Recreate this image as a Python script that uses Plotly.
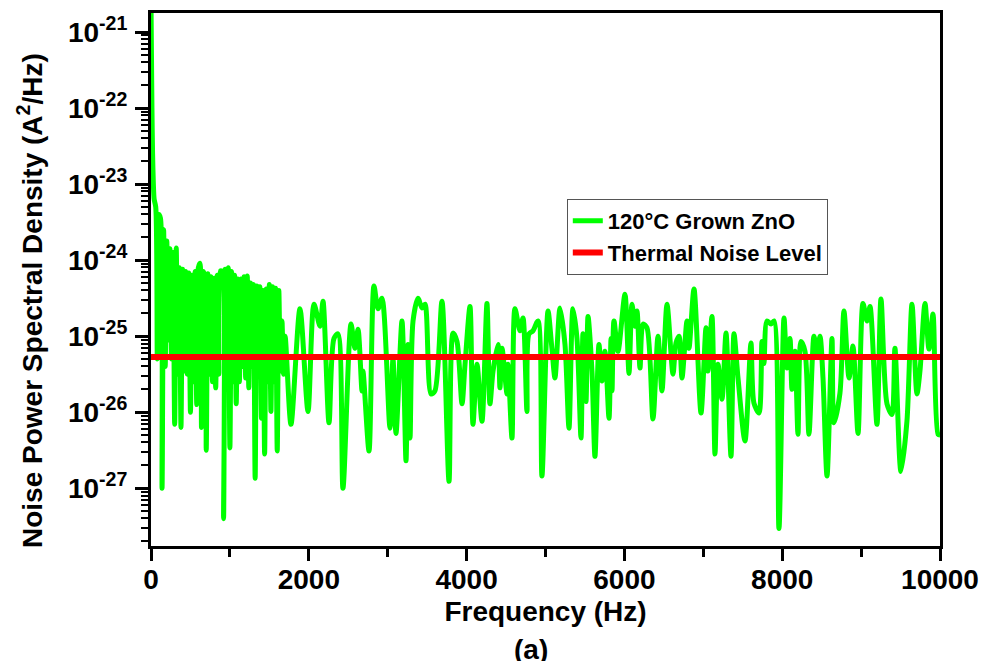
import plotly.graph_objects as go

# ---------------- data ----------------
freq_hz = [
    0, 6, 12, 20, 30, 40, 60, 80, 100, 120, 140, 160, 180, 200, 220, 240, 260, 280, 300, 320,
    340, 360, 380, 400, 420, 440, 460, 480, 500, 520, 540, 560, 580, 600, 620, 640, 660, 680, 700, 720,
    740, 760, 780, 800, 820, 840, 860, 880, 900, 920, 940, 960, 980, 1000, 1020, 1040, 1060, 1080, 1100, 1120,
    1140, 1160, 1180, 1200, 1220, 1240, 1260, 1280, 1300, 1320, 1340, 1360, 1380, 1400, 1420, 1440, 1460, 1480, 1500, 1520,
    1540, 1560, 1580, 1600, 1620, 1640, 1660, 1680, 1700,
    1774, 1888, 1990, 2066, 2142, 2180, 2256, 2319, 2370, 2433,
    2535, 2585, 2624, 2674, 2687, 2763, 2826, 2877, 2928, 3029, 3067, 3105, 3181, 3232, 3257, 3283,
    3321, 3384, 3435, 3473, 3549, 3599, 3688, 3777, 3828, 3878, 3942, 3980, 4043, 4081, 4132, 4195,
    4258, 4296, 4335, 4398, 4423, 4449, 4512, 4525, 4575, 4613, 4677, 4715, 4765, 4791, 4841, 4905, 4955,
    5032, 5082, 5120, 5184, 5247, 5298, 5348, 5399, 5450, 5475, 5513, 5539, 5589, 5627, 5678, 5716,
    5754, 5805, 5830, 5843, 5868, 5919, 6007, 6058, 6096, 6134, 6160, 6198, 6236, 6286, 6362, 6426,
    6476, 6540, 6616, 6654, 6692, 6730, 6793, 6819, 6882, 6971, 7034, 7059, 7110, 7148, 7186, 7237,
    7288, 7351, 7389, 7440,
    7528, 7604, 7642, 7706, 7744, 7769, 7807, 7858, 7896, 7959, 8023, 8061, 8099, 8124, 8162, 8200,
    8238, 8289, 8339, 8403, 8441, 8479, 8517, 8568, 8631, 8656, 8732, 8783, 8847, 8897, 8961, 9024,
    9075, 9113, 9201, 9252, 9328, 9391, 9429, 9505, 9581, 9645, 9708, 9746, 9810, 9860, 9911, 9975, 10000,
]

# log10 of the noise power spectral density (A^2/Hz)
log10_psd = [
    -20.6, -21.3, -22.0, -22.6, -23.0, -23.2, -23.3, -25.3, -23.4, -23.45, -27.0, -23.6, -25.4, -23.75, -25.05, -23.85, -25.3, -23.9, -26.16, -23.84,
    -25.5, -24.1, -26.2, -24.12, -25.46, -24.15, -25.5, -24.17, -26.0, -24.2, -25.6, -24.15, -25.9, -24.1, -24.04, -26.2, -24.15, -24.2, -26.5, -24.18,
    -25.5, -24.22, -25.6, -24.24, -25.68, -24.2, -25.5, -24.14, -24.15, -27.4, -24.12, -25.5, -24.1, -26.47, -24.15, -25.6, -24.2, -25.89, -24.25, -25.6,
    -24.25, -25.4, -24.22, -25.55, -24.21, -25.68, -24.3, -25.4, -24.32, -26.87, -24.34, -25.5, -24.35, -26.08, -24.4, -26.55, -24.38, -25.6, -24.32, -25.99,
    -24.35, -25.6, -24.37, -26.51, -24.4, -25.46, -24.8, -25.5, -25.0,
    -26.16, -24.64, -25.99, -24.58, -24.87, -24.54, -26.14, -25.03, -24.97, -27.0,
    -24.84, -25.16, -24.91, -25.72, -25.46, -26.51, -24.34, -24.64, -24.5, -26.21, -25.29, -26.28, -24.8, -26.64, -25.11, -26.34,
    -24.8, -24.5, -24.63, -24.58, -25.76, -25.72, -24.54, -26.91, -24.96, -25.07, -25.89, -25.37, -24.61, -26.16, -25.37, -26.12,
    -24.57, -25.89, -25.46, -25.11, -25.68, -25.16, -25.76, -25.37, -26.34, -24.64, -24.93, -24.76, -25.99, -24.97, -24.93, -24.8, -26.84,
    -24.67, -25.17, -25.55, -24.63, -25.11, -26.21, -24.64, -25.03, -26.34, -24.97, -25.86, -24.74, -25.46, -26.58, -25.11, -25.59,
    -25.2, -26.08, -25.03, -25.72, -24.8, -25.2, -24.45, -25.49, -24.58, -24.87, -24.67, -25.42, -24.84, -24.89, -26.09, -25.0,
    -25.72, -24.58, -25.5, -25.09, -25.0, -25.55, -24.8, -25.16, -24.38, -26.01, -24.89, -25.46, -24.74, -26.55, -25.37, -25.83,
    -24.96, -26.58, -24.97, -25.55,
    -26.38, -25.09, -25.88, -26.01, -25.07, -25.36, -24.8, -24.84, -24.8, -27.53, -24.76, -25.42, -25.03, -25.7, -25.2, -26.29,
    -25.07, -25.2, -26.29, -25.0, -25.24, -25.0, -25.55, -26.84, -25.03, -26.14, -25.75, -24.67, -25.55, -25.13, -26.28, -24.57,
    -24.8, -24.61, -26.16, -24.51, -25.89, -26.03, -25.16, -26.78, -26.12, -24.58, -25.76, -25.46, -24.57, -25.17, -24.71, -26.29, -26.3,
]

thermal_freq_hz = [0, 10000]
thermal_psd = [5.3e-26, 5.3e-26]

series_names = ["120°C Grown ZnO", "Thermal Noise Level"]

x_tick_vals = [0, 2000, 4000, 6000, 8000, 10000]
x_tick_text = ["0", "2000", "4000", "6000", "8000", "10000"]
x_minor_vals = [1000, 3000, 5000, 7000, 9000]

y_tick_vals = [1e-21, 1e-22, 1e-23, 1e-24, 1e-25, 1e-26, 1e-27]
y_tick_text = ["10<sup>-21</sup>", "10<sup>-22</sup>", "10<sup>-23</sup>", "10<sup>-24</sup>",
               "10<sup>-25</sup>", "10<sup>-26</sup>", "10<sup>-27</sup>"]
y_minor_vals = [k * 10.0 ** n for n in range(-28, -21) for k in range(2, 10)]

y_title = "Noise Power Spectral Density (A<sup>2</sup>/Hz)"
x_title = "Frequency (Hz)"
panel_label = "(a)"

psd = [10 ** v for v in log10_psd]

FONT = "Liberation Sans, Arial, Helvetica, sans-serif"

fig = go.Figure()
fig.add_trace(go.Scatter(
    x=freq_hz, y=psd, mode="lines", name=series_names[0],
    line=dict(color="#00ff00", width=5, shape="spline", smoothing=0.8),
))
fig.add_trace(go.Scatter(
    x=thermal_freq_hz, y=thermal_psd, mode="lines", name=series_names[1],
    line=dict(color="#ff0000", width=6),
))

fig.update_layout(
    width=993, height=661,
    margin=dict(l=151, r=53, t=13, b=115, autoexpand=False),
    paper_bgcolor="white", plot_bgcolor="white",
    font=dict(family=FONT, color="black", weight="bold"),
    showlegend=True,
    legend=dict(
        x=0.527, y=0.651, xanchor="left", yanchor="top",
        font=dict(family=FONT, size=22, color="black", weight="bold"),
        bordercolor="#555555", borderwidth=1, bgcolor="white",
        tracegroupgap=0,
    ),
    annotations=[
        dict(
            text=panel_label, x=0.4816, y=-0.162, xref="paper", yref="paper",
            xanchor="center", yanchor="top", showarrow=False,
            font=dict(family=FONT, size=28, color="black", weight="bold"),
        ),
        dict(
            text=y_title, textangle=-90, x=-0.1534, y=0.4615, xref="paper", yref="paper",
            xanchor="center", yanchor="middle", showarrow=False,
            font=dict(family=FONT, size=28, color="black", weight="bold"),
        ),
    ],
)

fig.update_xaxes(
    range=[0, 10000], tickmode="array", tickvals=x_tick_vals, ticktext=x_tick_text,
    ticks="outside", ticklen=12, tickwidth=2.5, tickcolor="black",
    showline=True, linewidth=3, linecolor="black", mirror=True,
    showgrid=False, zeroline=False, automargin=False,
    tickfont=dict(family=FONT, size=28, color="black", weight="bold"),
    ticklabelstandoff=-6,
    title=dict(text=x_title, standoff=8,
               font=dict(family=FONT, size=28, color="black", weight="bold")),
    minor=dict(tickmode="array", tickvals=x_minor_vals, ticks="outside",
               ticklen=8, tickwidth=2.5, tickcolor="black", showgrid=False),
)

fig.update_yaxes(
    type="log", range=[-27.76, -20.75], tickmode="array",
    tickvals=y_tick_vals, ticktext=y_tick_text,
    ticks="outside", ticklen=13, tickwidth=2.5, tickcolor="black",
    showline=True, linewidth=3, linecolor="black", mirror=True,
    showgrid=False, zeroline=False, automargin=False,
    tickfont=dict(family=FONT, size=28, color="black", weight="bold"),
    ticklabelstandoff=2,
    minor=dict(tickmode="array", tickvals=y_minor_vals, ticks="outside",
               ticklen=7, tickwidth=2, tickcolor="black", showgrid=False),
)

fig.write_html("out.html")
